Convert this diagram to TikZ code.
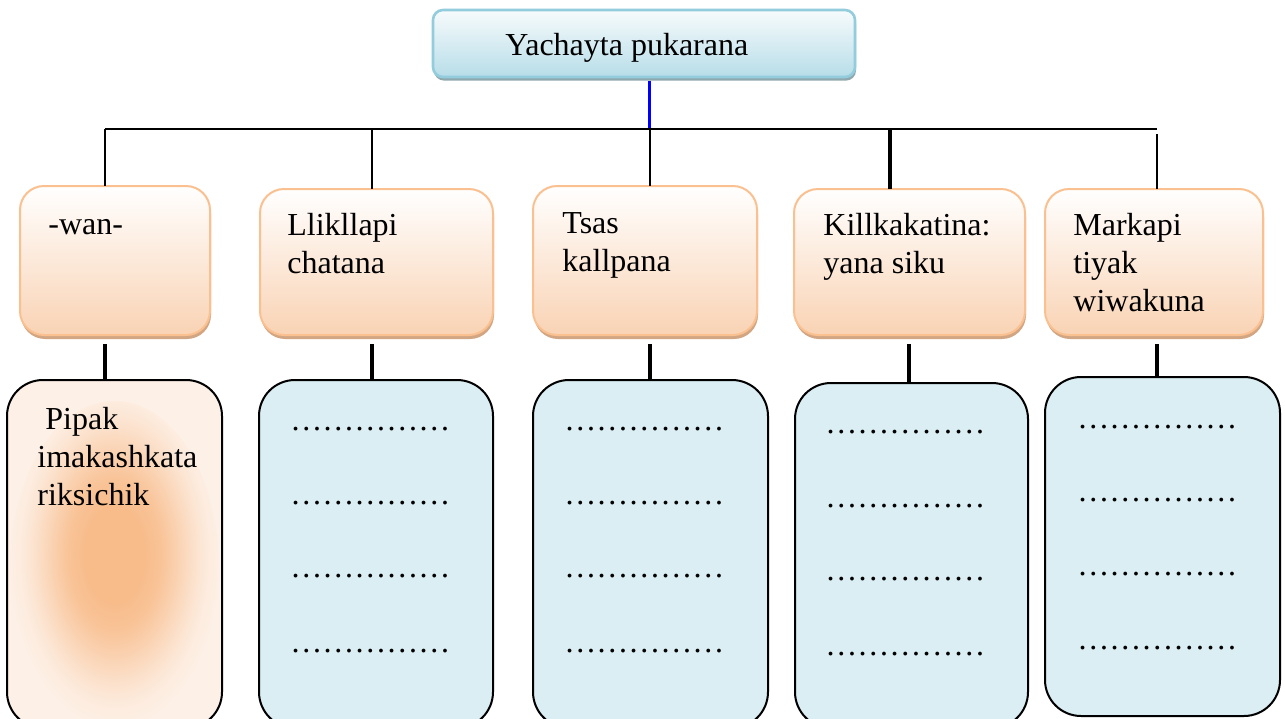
\documentclass[tikz,border=0pt]{standalone}
\usepackage{fontspec}
\setmainfont{Liberation Serif}
\usetikzlibrary{shadows}
\definecolor{topBorder}{HTML}{93CDDD}
\definecolor{topTop}{HTML}{F7FBFC}
\definecolor{topBot}{HTML}{B7DDE8}
\definecolor{topShadow}{HTML}{8FA8AE}
\definecolor{orBorder}{HTML}{FAC090}
\definecolor{orBot}{HTML}{F9D3B4}
\definecolor{orShadow}{HTML}{D3A683}
\definecolor{ansFill}{HTML}{DAEEF3}
\definecolor{glowIn}{HTML}{F8BC8B}
\definecolor{glowOut}{HTML}{FDF0E6}
\colorlet{glowA}{glowIn!85!glowOut}
\colorlet{glowB}{glowIn!55!glowOut}
\colorlet{glowC}{glowIn!25!glowOut}
\colorlet{glowD}{glowIn!8!glowOut}
\pgfdeclareradialshading{glow}{\pgfpoint{0bp}{0bp}}{color(0bp)=(glowIn); color(7bp)=(glowIn); color(11bp)=(glowA); color(15bp)=(glowB); color(19bp)=(glowC); color(22bp)=(glowD); color(25bp)=(glowOut); color(50bp)=(glowOut)}
\tikzset{
  boxbase/.style={rectangle, anchor=north west, inner sep=0pt, outer sep=0pt},
  titlebox/.style={boxbase, draw=topBorder, line width=1.3pt, rounded corners=5pt,
    top color=topTop, bottom color=topBot,
    drop shadow={shadow xshift=0.5pt, shadow yshift=-1.8pt, fill=topShadow, opacity=1}},
  catbox/.style={boxbase, draw=orBorder, line width=1pt, rounded corners=12pt,
    top color=white, bottom color=orBot,
    drop shadow={shadow xshift=0.5pt, shadow yshift=-2pt, fill=orShadow, opacity=1}},
  ansbox/.style={boxbase, draw=black, line width=1pt, rounded corners=18pt, fill=ansFill},
  txt/.style={font=\fontsize{16}{19}\selectfont, align=left, anchor=north west, inner sep=0pt},
  dotrow/.style={font=\fontsize{16}{19}\selectfont, anchor=base west, inner sep=0pt},
  thin/.style={line width=1pt},
  thick/.style={line width=1.6pt},
}
\begin{document}
\begin{tikzpicture}[x=0.5pt,y=-0.5pt]
\path[use as bounding box, clip] (0,0) rectangle (1285,718);
\fill[white] (0,0) rectangle (1285,718);

% title
\node[titlebox, minimum width=211pt, minimum height=33.5pt] (ttl) at (433,10) {};
\node[font=\fontsize{16}{19}\selectfont, anchor=base west, inner sep=0pt] (ttltext) at (505,55) {Yachayta pukarana};

% category boxes
\node[catbox, minimum width=95pt, minimum height=74.5pt] (c1) at (20,186) {};
\node[catbox, minimum width=116.5pt, minimum height=73pt] (c2) at (260,189) {};
\node[catbox, minimum width=112pt, minimum height=74.5pt] (c3) at (533,186) {};
\node[catbox, minimum width=115.5pt, minimum height=73pt] (c4) at (794,189) {};
\node[catbox, minimum width=109pt, minimum height=73pt] (c5) at (1045,189) {};

\node[txt] (t1) at (48,207) {\strut -wan-};
\node[txt] (t2) at (287,208.4) {\strut Llikllapi\\chatana};
\node[txt] (t3) at (562,206.5) {\strut Tsas\\kallpana};
\node[txt] (t4) at (823,208.4) {\strut Killkakatina:\\yana siku};
\node[txt] (t5) at (1073,208.4) {\strut Markapi\\tiyak\\wiwakuna};

% answer boxes
\node[ansbox, fill=glowOut, minimum width=107.5pt, minimum height=174pt,
  path picture={\shade[shading=glow] ([yshift=-5.5pt]path picture bounding box.center) ellipse [x radius=52pt, y radius=82pt];}] (a1) at (7,380) {};
\node[ansbox, minimum width=117pt, minimum height=174pt] (a2) at (259,380) {};
\node[ansbox, minimum width=117.5pt, minimum height=174pt] (a3) at (533,380) {};
\node[ansbox, minimum width=116.5pt, minimum height=172.5pt] (a4) at (795,383) {};
\node[ansbox, minimum width=117.5pt, minimum height=169.5pt] (a5) at (1045,377) {};

\node[txt] (p1) at (37,402.4) {\strut\hspace*{4pt}Pipak\\imakashkata\\riksichik};

\foreach \n/\x/\ya/\yb/\yc/\yd in {2/290/430/504/577/652, 3/564/430/504/577/652, 4/825/433/507/580/655, 5/1077/428/501/575/649}{
  \node[dotrow] (d\n a) at (\x,\ya) {……………};
  \node[dotrow] (d\n b) at (\x,\yb) {……………};
  \node[dotrow] (d\n c) at (\x,\yc) {……………};
  \node[dotrow] (d\n d) at (\x,\yd) {……………};
}

% connectors
\coordinate (hub) at (649,129);
\coordinate (h1) at (105,129);
\coordinate (h2) at (372,129);
\coordinate (h3) at (650,129);
\coordinate (h4) at (890,129);
\coordinate (h5) at (1157,129);
\coordinate (l4) at (909,129);

\draw[blue, line width=1.5pt] ([yshift=-1.8pt]ttl.south -| hub) -- (hub);
\draw[thin] (h1) -- (h5);
\draw[thin] (h1) -- (h1 |- c1.north);
\draw[thin] (h2) -- (h2 |- c2.north);
\draw[thin] (h3) -- (h3 |- c3.north);
\draw[thick] (h4) -- (h4 |- c4.north);
\draw[thin] ([yshift=-2.5pt]h5) -- (h5 |- c5.north);

\draw[thick] ([yshift=-4.5pt]c1.south -| h1) -- (a1.north -| h1);
\draw[thick] ([yshift=-4.5pt]c2.south -| h2) -- (a2.north -| h2);
\draw[thick] ([yshift=-4.5pt]c3.south -| h3) -- (a3.north -| h3);
\draw[thick] ([yshift=-4.5pt]c4.south -| l4) -- (a4.north -| l4);
\draw[thick] ([yshift=-4.5pt]c5.south -| h5) -- (a5.north -| h5);
\end{tikzpicture}
\end{document}
